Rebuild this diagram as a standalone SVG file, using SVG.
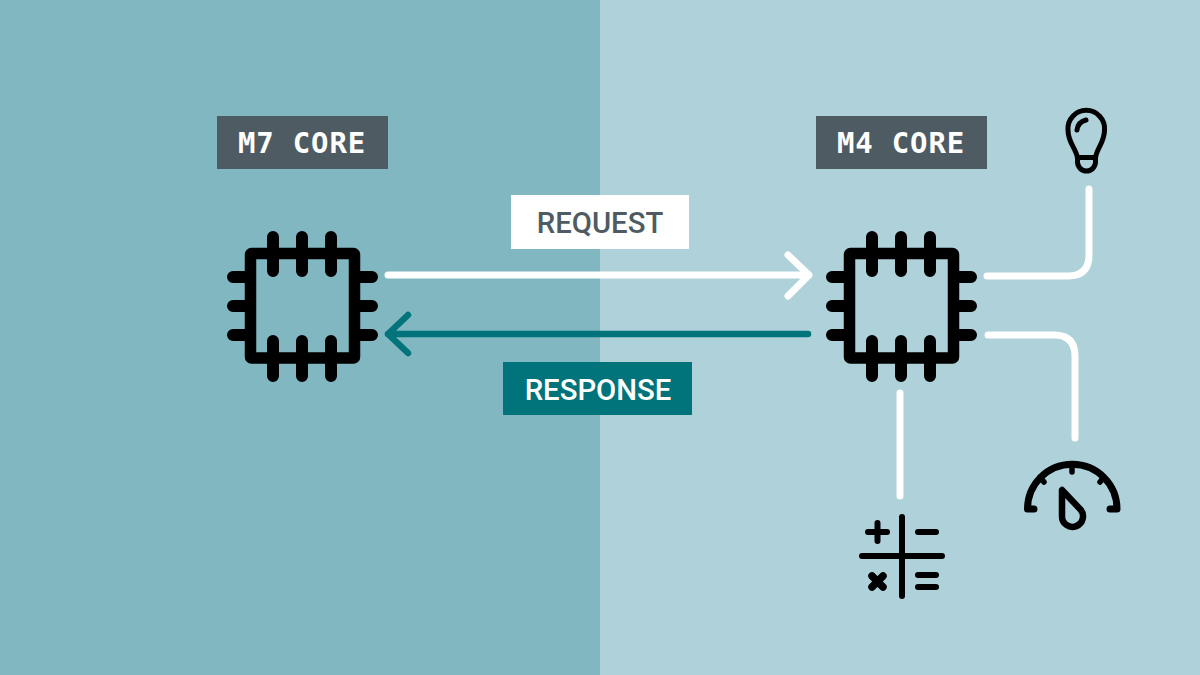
<svg xmlns="http://www.w3.org/2000/svg" width="1200" height="675" viewBox="0 0 1200 675">
<style>
.ln{fill:none;stroke-linecap:round;stroke-linejoin:round}
.k{stroke:#000}
.w{stroke:#fff;stroke-width:7}
.t{stroke:#00747a;stroke-width:6.500}
.mono{font-family:"DejaVu Sans Mono","Liberation Mono",monospace;font-weight:700;font-size:29px;fill:#fff;text-anchor:middle;letter-spacing:.8px}
.lab{font-family:Roboto,"Liberation Sans",sans-serif;font-weight:500;font-size:29.300px;text-anchor:middle}
</style>
<defs>
<g id="chip" class="ln k">
<rect x="250.500" y="253.500" width="104" height="104.500" rx="1" stroke-width="11.500"/>
<path stroke-width="12" d="M273 237V271M302 237V271M331 237V271M273 341V376M302 341V376M331 341V376M233 277H250M233 306H250M233 335H250M355 277H372M355 306H372M355 335H372"/>
</g>
</defs>
<rect id="left-panel" x="0" y="0" width="600" height="675" fill="#81b7c1"/>
<rect id="right-panel" x="600" y="0" width="600" height="675" fill="#afd1d9"/>
<g id="connectors">
<path class="ln w" d="M388 275H809M788 255L809 275L788 296"/>
<path class="ln t" d="M808 334H388M408 315L388 334L408 353"/>
<path class="ln w" d="M987 276H1068Q1089 276 1089 255V189"/>
<path class="ln w" d="M988 335H1054Q1075 335 1075 356V438"/>
<path class="ln w" d="M900 393V496"/>
</g>
<g id="m7-core"><use href="#chip"/></g>
<g id="m4-core"><use href="#chip" x="599"/></g>
<g id="m7-label"><rect x="217" y="116" width="171" height="53" fill="#4f5b62"/><text class="mono" x="302" y="153">M7 CORE</text></g>
<g id="m4-label"><rect x="816" y="116" width="171" height="53" fill="#4f5b62"/><text class="mono" x="901" y="153">M4 CORE</text></g>
<g id="request-label"><rect x="511" y="195" width="178" height="54" fill="#fff"/><text class="lab" x="600" y="232.500" fill="#4f5b62">REQUEST</text></g>
<g id="response-label"><rect x="503" y="362" width="189" height="53" fill="#00747a"/><text class="lab" x="598" y="399.500" fill="#fff">RESPONSE</text></g>
<g id="bulb" class="ln k" stroke-width="5">
<path d="M1077.500 158C1076 148 1068 143 1068 130A18.300 18.300 0 1 1 1104.500 130C1104.500 143 1096.500 148 1095.500 158V162A9 9 0 0 1 1077.500 162Z"/>
<path d="M1077.500 157.500H1095.500"/>
<path d="M1077 130Q1078 122 1086 120"/>
</g>
<g id="gauge" class="ln k">
<path stroke-width="7" d="M1027.500 509H1034M1027.500 509A44.700 44.700 0 0 1 1117 509M1117 509H1110"/>
<path stroke-width="5.500" d="M1072 464V472M1040 477L1044 482M1104 477L1100 482"/>
<path stroke-width="6.500" d="M1062 490V516A10.500 10.500 0 1 0 1080 509Z"/>
</g>
<g id="calc" class="ln k">
<path stroke-width="6" d="M902 517V596M862 556H942"/>
<path stroke-width="6" d="M868 532H887M877.500 523V541M918 532H936M918 575H936M918 587H936"/>
<path stroke-width="7.500" d="M872 576L883 587M883 576L872 587"/>
</g>
</svg>
